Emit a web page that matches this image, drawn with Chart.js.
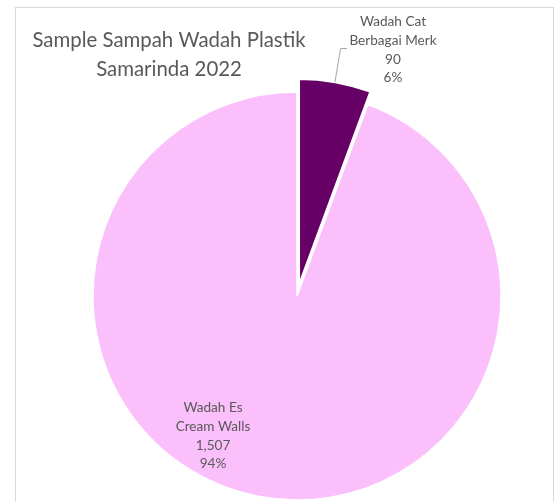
<!DOCTYPE html>
<html>
<head>
<meta charset="utf-8">
<script src="https://cdn.jsdelivr.net/npm/chart.js@4.4.1/dist/chart.umd.min.js"></script>
<style>
  html, body { margin: 0; padding: 0; background: #ffffff; }
  #wrap { width: 556px; height: 502px; position: relative; }
</style>
</head>
<body>
<div id="wrap"><canvas id="pie" width="556" height="502"></canvas></div>
<script>
// Slice names (split over two lines as shown in the labels), counts and colours
const categories = [['Wadah Cat', 'Berbagai Merk'], ['Wadah Es', 'Cream Walls']];
const values = [90, 1507];
const sliceColors = ['#660066', '#FBBFFB'];
const titleLines = ['Sample Sampah Wadah Plastik', 'Samarinda 2022'];

const TEXT_COLOR = '#595959';
const FONT_FAMILY = 'Lato, "Open Sans", sans-serif';

// Pull-out distance of each slice away from the centre, in pixels
const explode = [13, 0];

// Where each slice's label block is centred (first line centre)
const labelAnchors = [{ x: 393, y: 22 }, { x: 213, y: 408 }];

const total = values.reduce((a, b) => a + b, 0);

function labelLines(i) {
  const pct = Math.round(values[i] / total * 100) + '%';
  return [...categories[i], values[i].toLocaleString('en-US'), pct];
}

// Shift exploded slices straight out along their middle angle, keeping the radius
const explodeSlices = {
  id: 'explodeSlices',
  afterUpdate(chart) {
    chart.getDatasetMeta(0).data.forEach((arc, i) => {
      const d = explode[i];
      if (!d || arc._exploded) return;
      const baseDraw = arc.draw.bind(arc);
      arc.draw = function (ctx) {
        const mid = (this.startAngle + this.endAngle) / 2;
        ctx.save();
        ctx.translate(Math.cos(mid) * d, Math.sin(mid) * d);
        baseDraw(ctx);
        ctx.restore();
      };
      arc._exploded = true;
    });
  }
};

// Frame, title, data labels and the leader line of the small slice
const decorations = {
  id: 'decorations',
  beforeDraw(chart) {
    const ctx = chart.ctx;
    ctx.save();
    ctx.fillStyle = '#ffffff';
    ctx.fillRect(0, 0, chart.width, chart.height);
    ctx.strokeStyle = '#d9d9d9';
    ctx.lineWidth = 1;
    ctx.strokeRect(15.5, 7.5, 538, 520);
    ctx.restore();
  },
  afterDatasetsDraw(chart) {
    const ctx = chart.ctx;
    ctx.save();
    // title
    ctx.fillStyle = TEXT_COLOR;
    ctx.textAlign = 'center';
    ctx.textBaseline = 'middle';
    ctx.font = '20.4px ' + FONT_FAMILY;
    ctx.fillText(titleLines[0], 169, 40);
    ctx.fillText(titleLines[1], 169, 69);

    // data labels
    ctx.font = '13.6px ' + FONT_FAMILY;
    values.forEach((v, i) => {
      const a = labelAnchors[i];
      labelLines(i).forEach((t, k) => {
        ctx.fillText(t, a.x, a.y + k * 18.7);
      });
    });

    // leader line from the small slice to its label
    ctx.strokeStyle = '#a6a6a6';
    ctx.lineWidth = 1;
    ctx.beginPath();
    ctx.moveTo(335, 82);
    ctx.lineTo(340.5, 48.5);
    ctx.lineTo(347, 48.5);
    ctx.stroke();
    ctx.restore();
  }
};

new Chart(document.getElementById('pie'), {
  type: 'pie',
  data: {
    labels: categories.map(c => c.join(' ')),
    datasets: [{
      data: values,
      backgroundColor: sliceColors,
      borderColor: '#ffffff',
      borderWidth: 1.5
    }]
  },
  options: {
    responsive: false,
    animation: false,
    events: [],
    radius: 204,
    layout: { padding: { left: 38, top: 90, right: 0, bottom: 0 } },
    plugins: {
      legend: { display: false },
      title: { display: false },
      tooltip: { enabled: false }
    }
  },
  plugins: [explodeSlices, decorations]
});
</script>
</body>
</html>
